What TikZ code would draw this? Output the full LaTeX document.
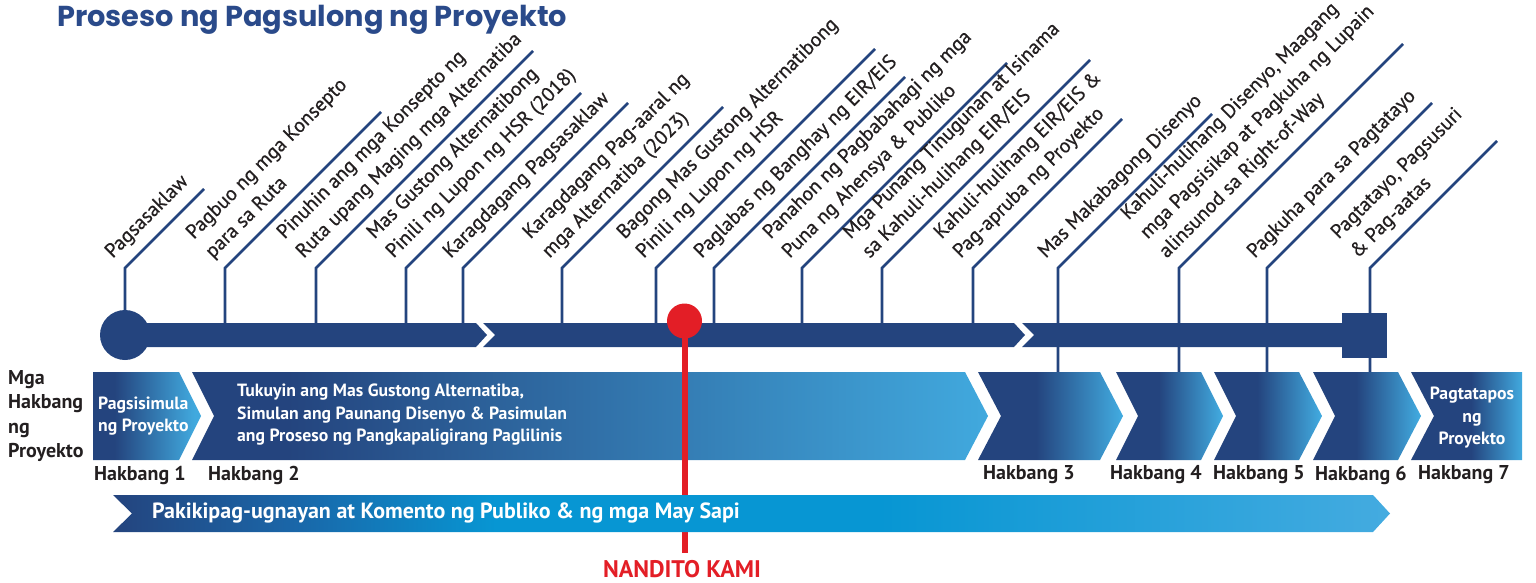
\documentclass[tikz,border=0pt]{standalone}
\usepackage{fontspec}
\setmainfont{PT Sans}
\newfontfamily\titlefont{Poppins}
\newfontfamily\lblfont{PT Sans}[FakeBold=0.6]
\usetikzlibrary{calc}
\definecolor{hnavy}{HTML}{24447E}
\definecolor{hlight}{HTML}{41A9DE}
\definecolor{hmid}{HTML}{0796D3}
\definecolor{hmid2}{HTML}{1A66A8}
\definecolor{hlight2}{HTML}{44ABE0}
\definecolor{htxt}{HTML}{231F20}
\definecolor{hred}{HTML}{E31E26}
\definecolor{htitle}{HTML}{2A4A8A}
\pgfdeclarehorizontalshading{chevA}{100bp}{color(0bp)=(hnavy); color(25bp)=(hnavy); color(35bp)=(hnavy); color(72bp)=(hlight); color(100bp)=(hlight)}
\pgfdeclarehorizontalshading{chevB}{100bp}{color(0bp)=(hnavy); color(25bp)=(hnavy); color(31bp)=(hnavy); color(75bp)=(hlight); color(100bp)=(hlight)}
\pgfdeclarehorizontalshading{chevC}{100bp}{color(0bp)=(hnavy); color(25bp)=(hnavy); color(45bp)=(hnavy); color(74bp)=(hlight); color(100bp)=(hlight)}
\pgfdeclarehorizontalshading{chevD}{100bp}{color(0bp)=(hnavy); color(25bp)=(hnavy); color(52bp)=(hnavy); color(75bp)=(hlight); color(100bp)=(hlight)}
\pgfdeclarehorizontalshading{pubS}{100bp}{color(0bp)=(hnavy); color(25bp)=(hnavy); color(32bp)=(hmid2); color(40bp)=(hmid); color(55bp)=(hmid); color(75bp)=(hlight2); color(100bp)=(hlight2)}
\newcommand\stemlbl[5]{%
  \coordinate (#1b) at (#2,#4);
  \coordinate (#1c) at (#2,268);
  \coordinate (#1e) at ({#2+#3},{268-#3});
  \draw[stemline] (#1b) -- (#1c) -- (#1e);
  \node[lbl] (#1) at ($(#1c)+(-9.2,-6.0)$) {#5};
}
\begin{document}
\begin{tikzpicture}[x=1pt,y=-1pt,
  stemline/.style={draw=hnavy,line width=2.6pt},
  lbl/.style={rotate=45,anchor=south west,inner sep=0pt,align=left,text=htxt,font=\lblfont\fontsize{20}{27}\selectfont},
  chevtxt/.style={inner sep=0pt,align=left,text=white,font=\bfseries\fontsize{17.7}{22.5}\selectfont},
  steplbl/.style={inner sep=0pt,anchor=west,text=htxt,font=\bfseries\fontsize{20}{24}\selectfont},
  barfill/.style={fill=hnavy}]
\useasboundingbox (0,0) rectangle (1536,583);
% title
\node[anchor=base west,inner sep=0pt,text=htitle,font=\titlefont\bfseries\fontsize{28.8}{32}\selectfont] (title) at (57,27) {Proseso ng Pagsulong ng Proyekto};
% stems and labels
\stemlbl{a}{125}{79}{335}{Pagsasaklaw}
\stemlbl{b}{225}{156}{335}{Pagbuo ng mga Konsepto\\para sa Ruta}
\stemlbl{c}{316}{217}{335}{Pinuhin ang mga Konsepto ng\\Ruta upang Maging mga Alternatiba}
\stemlbl{d}{406}{175}{335}{Mas Gustong Alternatibong\\Pinili ng Lupon ng HSR (2018)}
\stemlbl{e}{463}{165}{335}{Karagdagang Pagsasaklaw}
\stemlbl{f}{562}{161}{335}{Karagdagang Pag-aaral ng\\mga Alternatiba (2023)}
\stemlbl{g}{656}{219}{335}{Bagong Mas Gustong Alternatibong\\Pinili ng Lupon ng HSR}
\stemlbl{h}{714}{191}{335}{Paglabas ng Banghay ng EIR/EIS}
\stemlbl{i}{802}{205}{335}{Panahon ng Pagbabahagi ng mga\\Puna ng Ahensya \& Publiko}
\stemlbl{j}{882}{208}{335}{Mga Punang Tinugunan at Isinama\\sa Kahuli-hulihang EIR/EIS}
\stemlbl{k}{973}{149}{335}{Kahuli-hulihang EIR/EIS \&\\Pag-apruba ng Proyekto}
\stemlbl{l}{1058}{154}{373}{Mas Makabagong Disenyo}
\stemlbl{m}{1179}{224}{373}{Kahuli-hulihang Disenyo, Maagang\\mga Pagsisikap at Pagkuha ng Lupain\\alinsunod sa Right-of-Way}
\stemlbl{n}{1267}{165}{373}{Pagkuha para sa Pagtatayo}
\stemlbl{o}{1370}{127}{373}{Pagtatayo, Pagsusuri\\\& Pag-aatas}
% timeline bar
\fill[barfill] (125,323) -- (476,323) -- (487,335) -- (476,347) -- (125,347) -- cycle;
\fill[barfill] (483,323) -- (1014,323) -- (1025,335) -- (1014,347) -- (483,347) -- (495,335) -- cycle;
\fill[barfill] (1022,323) -- (1350,323) -- (1350,347) -- (1022,347) -- (1034,335) -- cycle;
\fill[barfill] (125,335) circle[radius=25pt];
\fill[barfill] (1342,313) rectangle (1387,358);
% chevrons
\shade[shading=chevA] (93,372) -- (179,372) -- (201,416) -- (179,460) -- (93,460) -- cycle;
\shade[shading=chevB] (192,372) -- (965,372) -- (988,416) -- (965,460) -- (192,460) -- (214,416) -- cycle;
\shade[shading=chevC] (978,372) -- (1100,372) -- (1123,416) -- (1100,460) -- (978,460) -- (1001,416) -- cycle;
\shade[shading=chevC] (1116,372) -- (1201,372) -- (1223,416) -- (1201,460) -- (1116,460) -- (1138,416) -- cycle;
\shade[shading=chevC] (1214,372) -- (1299,372) -- (1322,416) -- (1299,460) -- (1214,460) -- (1236,416) -- cycle;
\shade[shading=chevC] (1313,372) -- (1398,372) -- (1421,416) -- (1398,460) -- (1313,460) -- (1335,416) -- cycle;
\shade[shading=chevD] (1411,372) -- (1522,372) -- (1522,460) -- (1411,460) -- (1434,416) -- cycle;
\node[chevtxt,anchor=west] (t1) at (98,416) {Pagsisimula\\ng Proyekto};
\node[chevtxt,anchor=west] (t2) at (237,415) {Tukuyin ang Mas Gustong Alternatiba,\\Simulan ang Paunang Disenyo \& Pasimulan\\ang Proseso ng Pangkapaligirang Paglilinis};
\node[chevtxt,align=center] (t7) at (1472,418) {Pagtatapos\\ng\\Proyekto};
% left label
\node[anchor=west,inner sep=0pt,align=left,text=htxt,font=\bfseries\fontsize{20}{24.3}\selectfont] (side) at (8,416) {Mga\\Hakbang\\ng\\Proyekto};
% step labels
\node[steplbl] (h1) at (94,475) {Hakbang 1};
\node[steplbl] (h2) at (208,475) {Hakbang 2};
\node[steplbl] (h3) at (983,475) {Hakbang 3};
\node[steplbl] (h4) at (1110,475) {Hakbang 4};
\node[steplbl] (h5) at (1213,475) {Hakbang 5};
\node[steplbl] (h6) at (1315,475) {Hakbang 6};
\node[steplbl] (h7) at (1418,475) {Hakbang 7};
% red marker
\coordinate (redtop) at (684.5,321);
\coordinate (redbot) at (684.5,553);
\draw[hred,line width=6pt] (redtop) -- (redbot);
\fill[hred] (redtop) circle[radius=17.5pt];
% public arrow
\shade[shading=pubS] (113,495) -- (1373,495) -- (1390,513.5) -- (1373,532) -- (113,532) -- (132,513.5) -- cycle;
\node[anchor=west,inner sep=0pt,text=white,font=\bfseries\fontsize{22}{26}\selectfont] (pub) at (152,513) {Pakikipag-ugnayan at Komento ng Publiko \& ng mga May Sapi};
\node[inner sep=0pt,text=hred,font=\bfseries\fontsize{24}{28}\selectfont] (here) at (682,569) {NANDITO KAMI};
\end{tikzpicture}
\end{document}
